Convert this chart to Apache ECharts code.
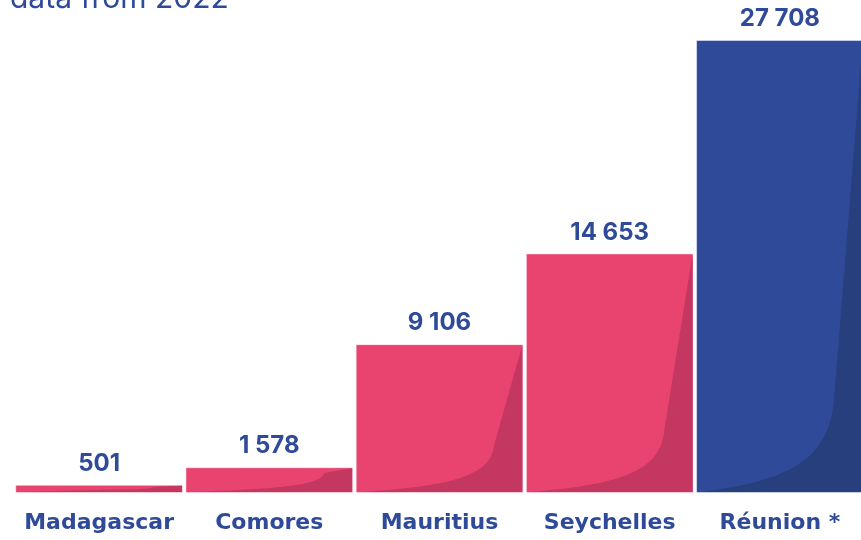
<!DOCTYPE html>
<html>
<head>
<meta charset="utf-8">
<script src="https://cdn.jsdelivr.net/npm/echarts@6/dist/echarts.min.js"></script>
<style>
  html, body { margin: 0; padding: 0; background: #fff; }
  #chart { width: 861px; height: 540px; }
</style>
</head>
<body>
<div id="chart"></div>
<script>
// données 2022
const categories = ["Madagascar", "Comores", "Mauritius", "Seychelles", "Réunion *"];
const values = [501, 1578, 9106, 14653, 27708];
const barColors = ["#E8446F", "#E8446F", "#E8446F", "#E8446F", "#2E4A98"];
const shadeColors = ["#C43760", "#C43760", "#C43760", "#C43760", "#273F7D"];

const chart = echarts.init(document.getElementById("chart"));
const fontFamily = "Inter, 'Noto Sans', sans-serif";
const wideFont = "'DejaVu Sans', Inter, sans-serif";
const textBlue = "#2E4A98";
const gapRatio = 0.015;

// ombre courbe sur la droite de chaque barre
const renderShade = (params, api) => {
  const idx = api.value(0);
  const top = api.coord([idx, api.value(1)]);
  const base = api.coord([idx, 0]);
  const w = api.size([1, 0])[0] * (1 - gapRatio);
  const x0 = top[0] - w / 2 + 1;
  const x1 = top[0] + w / 2 - 1;
  const yt = top[1] + 1;
  const yb = base[1] - 1;
  const h = yb - yt;
  const k = Math.min(0.17 * h + 22, 0.8 * h);
  const kx = x0 + 0.83 * (x1 - x0);
  const path =
    "M" + (x0 + 0.03 * w) + " " + yb +
    " C" + (x0 + 0.58 * w) + " " + (yb - 0.02 * h - 3) + " " +
    (kx - 0.02 * w) + " " + (yb - k * 0.35) + " " +
    kx + " " + (yb - k) +
    " L" + x1 + " " + yt +
    " L" + x1 + " " + yb + " Z";
  return {
    type: "path",
    shape: { pathData: path },
    style: { fill: shadeColors[idx] }
  };
};

const options = {
  animation: false,
  graphic: [
    {
      type: "text",
      x: 10,
      y: -16,
      style: {
        text: "data from 2022",
        fontSize: 30,
        fontFamily: fontFamily,
        fill: textBlue
      }
    }
  ],
  grid: { left: 14, width: 851, top: 40, bottom: 47, outerBoundsMode: "none" },
  xAxis: {
    type: "category",
    data: categories,
    axisLine: { show: false },
    axisTick: { show: false },
    axisLabel: {
      margin: 19,
      fontSize: 22,
      fontWeight: 700,
      fontFamily: wideFont,
      color: textBlue,
      interval: 0
    }
  },
  yAxis: {
    type: "value",
    min: 0,
    max: 27708,
    show: false,
    splitLine: { show: false }
  },
  series: [
    {
      type: "bar",
      barCategoryGap: "1.5%",
      data: values.map((v, i) => ({ value: v, itemStyle: { color: barColors[i] } })),
      itemStyle: { borderColor: "rgba(255,255,255,0.45)", borderWidth: 1 },
      label: {
        show: true,
        position: "top",
        distance: 9,
        fontSize: 24,
        fontWeight: 700,
        fontFamily: fontFamily,
        color: textBlue,
        formatter: (p) => p.value.toLocaleString("fr-FR").replace(/\s/g, " ")
      },
      z: 2
    },
    {
      type: "custom",
      renderItem: renderShade,
      data: values.map((v, i) => [i, v]),
      encode: { x: 0, y: 1 },
      silent: true,
      z: 3
    }
  ]
};

chart.setOption(options);
</script>
</body>
</html>
